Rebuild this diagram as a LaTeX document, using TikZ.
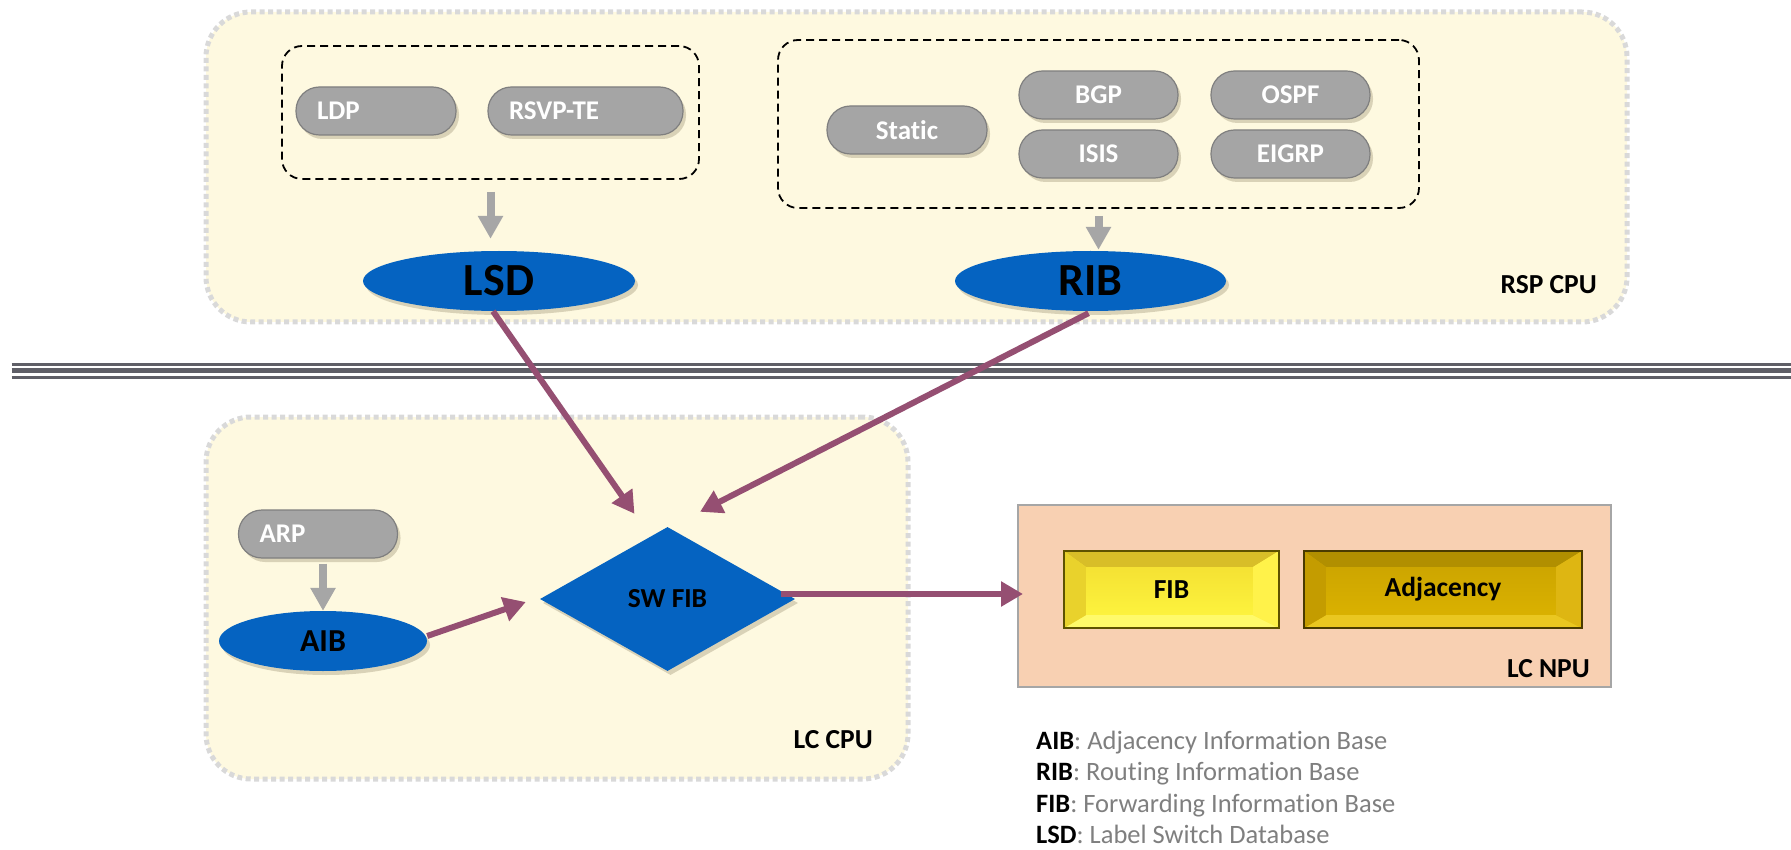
\documentclass[tikz,border=0pt]{standalone}
\usepackage{fontspec}
\setmainfont{Carlito}[Ligatures=NoCommon]
\usetikzlibrary{arrows.meta,shapes.geometric,shadows,calc}

\definecolor{cream}{HTML}{FEF9E0}
\definecolor{dotgray}{HTML}{D9D9D9}
\definecolor{pillgray}{HTML}{A5A5A5}
\definecolor{pilledge}{HTML}{7F7F7F}
\definecolor{arrowgray}{HTML}{A6A6A6}
\definecolor{dbblue}{HTML}{0563C1}
\definecolor{flowpurple}{HTML}{954F72}
\definecolor{barline}{HTML}{5F5F67}
\definecolor{npufill}{HTML}{F8D0B2}
\definecolor{npuedge}{HTML}{A6A6A6}
\definecolor{legendgray}{HTML}{7F7F7F}
\definecolor{shadowtone}{HTML}{6E6040}
% bevelled buttons
\definecolor{fibtop}{HTML}{D8BE28}
\definecolor{fibbottom}{HTML}{FFFA6A}
\definecolor{fibleft}{HTML}{E9D22C}
\definecolor{fibright}{HTML}{FFF24A}
\definecolor{fibcentertop}{HTML}{F2DC30}
\definecolor{fibcenterbottom}{HTML}{FFF740}
\definecolor{fibedge}{HTML}{5E5200}
\definecolor{adjtop}{HTML}{B18F00}
\definecolor{adjbottom}{HTML}{EAC720}
\definecolor{adjleft}{HTML}{C49C00}
\definecolor{adjright}{HTML}{DEB612}
\definecolor{adjcentertop}{HTML}{C9A200}
\definecolor{adjcenterbottom}{HTML}{DDB400}
\definecolor{adjedge}{HTML}{4A3B00}

\newcommand\pxsize[1]{\fontsize{#1}{#1}\selectfont}

% bevel faces around a button node: #1 node, #2 top, #3 bottom, #4 left, #5 right, #6 edge
\newcommand\buttonbevel[6]{%
  \fill[#2] (#1.north west) -- (#1.north east) -- ($(#1.north east)+(-26,16)$) -- ($(#1.north west)+(22,16)$) -- cycle;
  \fill[#3] (#1.south west) -- (#1.south east) -- ($(#1.south east)+(-26,-13)$) -- ($(#1.south west)+(22,-13)$) -- cycle;
  \fill[#4] (#1.north west) -- ($(#1.north west)+(22,16)$) -- ($(#1.south west)+(22,-13)$) -- (#1.south west) -- cycle;
  \fill[#5] (#1.north east) -- ($(#1.north east)+(-26,16)$) -- ($(#1.south east)+(-26,-13)$) -- (#1.south east) -- cycle;
  \draw[#6, line width=1.6pt] (#1.north west) rectangle (#1.south east);
}

\tikzset{
  cpubox/.style={draw=dotgray, line width=5pt, dash pattern=on 5pt off 3.5pt,
    fill=cream, rounded corners=45pt, inner sep=0pt},
  groupbox/.style={draw=black, line width=1.8pt, dash pattern=on 8pt off 5pt,
    rounded corners=20pt, inner sep=0pt},
  softshadow/.style={drop shadow={shadow xshift=3pt, shadow yshift=-4pt,
    opacity=0.25, fill=shadowtone}},
  proto/.style={rectangle, rounded corners=23.5pt, fill=pillgray, draw=pilledge,
    line width=1.2pt, minimum height=48pt, inner sep=0pt, text=white,
    font=\bfseries\pxsize{27}, softshadow},
  protoleft/.style={proto, align=left, text width=#1, inner xsep=21pt},
  db/.style={ellipse, fill=dbblue, inner sep=0pt, minimum height=60pt,
    font=\bfseries, softshadow},
  flow/.style={draw=flowpurple, line width=6pt, -{Triangle[length=22pt,width=24pt]}},
  feed/.style={draw=arrowgray, line width=8pt, -{Triangle[length=23pt,width=24pt]}},
  tag/.style={font=\bfseries\pxsize{27.5}, inner sep=0pt},
  button/.style={rectangle, minimum height=77pt, inner sep=0pt,
    font=\bfseries\pxsize{27.5}},
  legend/.style={anchor=base west, inner sep=0pt, font=\pxsize{26.5}},
}

\begin{document}
\begin{tikzpicture}[x=1pt, y=-1pt]
\useasboundingbox (0,0) rectangle (1791,850);

% processor areas
\node[cpubox, minimum width=1421pt, minimum height=310pt] (rsp) at (916.5,167) {};
\node[cpubox, minimum width=702pt, minimum height=362pt] (lccpu) at (557,598) {};
\node[draw=npuedge, fill=npufill, line width=2pt, minimum width=593pt,
      minimum height=182pt, inner sep=0pt] (npu) at (1314.5,596) {};

\node[tag, anchor=east] (rsplabel) at (1597,285) {RSP CPU};
\node[tag, anchor=east] (lclabel) at (873,740) {LC CPU};
\node[tag, anchor=east] (npulabel) at (1590,669) {LC NPU};

% control / data plane separator
\draw[barline, line width=2.4pt] (11.5,364.5) -- (1791,364.5);
\draw[barline, line width=5pt] (11.5,370.5) -- (1791,370.5);
\draw[barline, line width=2.4pt] (11.5,377.5) -- (1791,377.5);

% label protocols
\node[groupbox, minimum width=417pt, minimum height=133pt] (ldpgrp) at (490.5,112.5) {};
\node[protoleft=118pt] (ldp) at (376,111) {LDP};
\node[protoleft=153pt] (rsvp) at (585.5,111) {RSVP-TE};

% routing protocols
\node[groupbox, minimum width=641pt, minimum height=168pt] (ribgrp) at (1098.5,124) {};
\node[proto, minimum width=160pt] (static) at (907,130) {Static};
\node[proto, minimum width=159pt] (bgp) at (1098.5,95) {BGP};
\node[proto, minimum width=159pt] (isis) at (1098.5,154) {ISIS};
\node[proto, minimum width=159pt] (ospf) at (1290.5,95) {OSPF};
\node[proto, minimum width=159pt] (eigrp) at (1290.5,154) {EIGRP};

% databases
\node[db, minimum width=272pt, font=\bfseries\pxsize{46}] (lsd) at (499,281) {LSD};
\node[db, minimum width=271pt, font=\bfseries\pxsize{46}] (rib) at (1090.5,281) {RIB};
\node[protoleft=117pt] (arp) at (318,534) {ARP};
\node[db, minimum width=208pt, font=\bfseries\pxsize{32}] (aib) at (323,641) {AIB};
\node[diamond, fill=dbblue, inner sep=0pt, minimum width=255pt, minimum height=144pt,
      font=\bfseries\pxsize{27.5}, softshadow] (swfib) at (667.5,599) {SW FIB};

% hardware tables
\node[button, minimum width=215pt, top color=fibcentertop, bottom color=fibcenterbottom] (fib) at (1171.5,589.5) {};
\buttonbevel{fib}{fibtop}{fibbottom}{fibleft}{fibright}{fibedge}
\node[button] (fibtext) at (fib) {FIB};
\node[button, minimum width=278pt, top color=adjcentertop, bottom color=adjcenterbottom] (adj) at (1443,589.5) {};
\buttonbevel{adj}{adjtop}{adjbottom}{adjleft}{adjright}{adjedge}
\node[button] (adjtext) at (adj) {Adjacency};

% feeds into the databases
\draw[feed, shorten <=12pt, shorten >=12pt] (ldpgrp.south) -- (ldpgrp.south |- lsd.north);
\draw[feed, shorten <=7pt, shorten >=1pt] (ribgrp.south) -- (ribgrp.south |- rib.north);
\draw[feed, shorten <=5pt] (aib.north |- arp.south) -- (aib.north);

% downloads to the forwarding plane
\draw[flow] ($(lsd.south)+(-6,0)$) -- ($(swfib.north)+(-33,-13)$);
\draw[flow] ($(rib.south)+(-2,2)$) -- ($(swfib.north)+(32.5,-15)$);
\draw[flow] ($(aib.east)+(0,-5)$) -- ($(swfib.west)+(-14,3)$);
\draw[flow] ($(swfib.east)+(-14,-5)$) -- ($(npu.west)+(6,-2)$);

% abbreviations
\node[legend] (lgaib) at (1036,749) {\textbf{AIB}\textcolor{legendgray}{: Adjacency Information Base}};
\node[legend] (lgrib) at (1036,780.5) {\textbf{RIB}\textcolor{legendgray}{: Routing Information Base}};
\node[legend] (lgfib) at (1036,812) {\textbf{FIB}\textcolor{legendgray}{: Forwarding Information Base}};
\node[legend] (lglsd) at (1036,843.5) {\textbf{LSD}\textcolor{legendgray}{: Label Switch Database}};
\end{tikzpicture}
\end{document}
